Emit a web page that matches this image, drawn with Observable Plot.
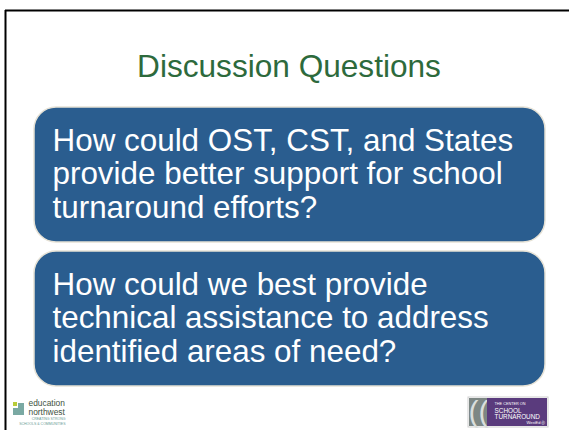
<!DOCTYPE html>
<html>
<head>
<meta charset="utf-8">
<script src="https://cdn.jsdelivr.net/npm/d3@7"></script>
<script src="https://cdn.jsdelivr.net/npm/@observablehq/plot@0.6"></script>
<style>
  html, body { margin: 0; padding: 0; background: #ffffff; }
  #chart svg { display: block; }
</style>
</head>
<body>
<div id="chart"></div>
<script>
// ---- content ----
const title = "Discussion Questions";
const questions = [
  ["How could OST, CST, and States", "provide better support for school", "turnaround efforts?"],
  ["How could we best provide", "technical assistance to address", "identified areas of need?"]
];
const leftLogoWords = ["education", "northwest"];
const leftLogoTagline = ["CREATING STRONG", "SCHOOLS & COMMUNITIES"];
const rightLogoSmall = "THE CENTER ON";
const rightLogoWords = ["SCHOOL", "TURNAROUND"];
const rightLogoBrand = "WestEd \u24C7";

// ---- layout ----
const W = 569, H = 430;
const boxX1 = 34, boxX2 = 545, boxTop0 = 107, boxH = 135, boxStep = 144;
const lineStep = 33.5, firstBaseline = 43, textX = 52;

const boxes = questions.map((q, i) => ({y1: boxTop0 + i * boxStep, y2: boxTop0 + i * boxStep + boxH}));
const lines = questions.flatMap((q, i) => q.map((t, j) => ({
  text: t, x: textX, y: boxTop0 + i * boxStep + firstBaseline + j * lineStep
})));

const font = "Liberation Sans, Arial, sans-serif";

const plot = Plot.plot({
  width: W, height: H,
  margin: 0,
  x: {domain: [0, W], range: [0, W], axis: null},
  y: {domain: [0, H], range: [0, H], axis: null},
  style: {fontFamily: font, background: "#ffffff"},
  marks: [
    // slide border (top and left)
    Plot.ruleY([10], {x1: 5, x2: W, stroke: "#000", strokeWidth: 2}),
    Plot.ruleX([5], {y1: 10, y2: H, stroke: "#000", strokeWidth: 2}),
    // title
    Plot.text([title], {x: W / 2 + 4, y: 76, text: d => d, fill: "#2d6a3c", fontSize: 31.6, lineAnchor: "bottom", textAnchor: "middle"}),
    // question boxes
    Plot.rect(boxes, {x1: boxX1, x2: boxX2, y1: "y1", y2: "y2", rx: 22, fill: "#2a5d8f", stroke: "#e6e2d6", strokeWidth: 1.5}),
    Plot.text(lines, {x: "x", y: "y", text: "text", fill: "#ffffff", fontSize: 31.4, textAnchor: "start", lineAnchor: "bottom"}),
    // left logo (education northwest)
    Plot.rect([0], {x1: 13, x2: 17, y1: 402, y2: 406, fill: "#b8cc3a"}),
    Plot.rect([0], {x1: 18, x2: 24, y1: 403, y2: 415, fill: "#7aa9a3"}),
    Plot.rect([0], {x1: 13, x2: 18, y1: 408, y2: 415, fill: "#7aa9a3"}),
    Plot.text(leftLogoWords, {x: 28, y: (d, i) => 405.5 + i * 8.6, text: d => d, fill: "#3e5140", fontSize: 8.4, textAnchor: "start", lineAnchor: "bottom"}),
    Plot.text(leftLogoTagline, {x: 65, y: (d, i) => 419.5 + i * 4.5, text: d => d, fill: "#6a9c95", fontSize: 3.5, textAnchor: "end", lineAnchor: "bottom"}),
    // right logo (center on school turnaround)
    Plot.rect([0], {x1: 468, x2: 548, y1: 397, y2: 427, fill: "#ffffff", stroke: "#cfcfcf", strokeWidth: 1}),
    Plot.rect([0], {x1: 469, x2: 487, y1: 398, y2: 426, fill: "#7d8784"}),
    Plot.text(["(("], {x: 478, y: 412, text: d => d, fill: "#d9dedc", fontSize: 30, fontWeight: 300, textAnchor: "middle", lineAnchor: "middle"}),
    Plot.rect([0], {x1: 487, x2: 547, y1: 398, y2: 426, fill: "#5a3b7d"}),
    Plot.text([rightLogoSmall], {x: 494, y: 404.5, text: d => d, fill: "#ffffff", fontSize: 3.8, textAnchor: "start", lineAnchor: "bottom"}),
    Plot.text(rightLogoWords, {x: 494, y: (d, i) => 412.3 + i * 6.6, text: d => d, fill: "#ffffff", fontSize: 6.4, textAnchor: "start", lineAnchor: "bottom"}),
    Plot.text([rightLogoBrand], {x: 545, y: 423.5, text: d => d, fill: "#ffffff", fontSize: 4, textAnchor: "end", lineAnchor: "bottom"})
  ]
});
document.getElementById("chart").appendChild(plot);
</script>
</body>
</html>
